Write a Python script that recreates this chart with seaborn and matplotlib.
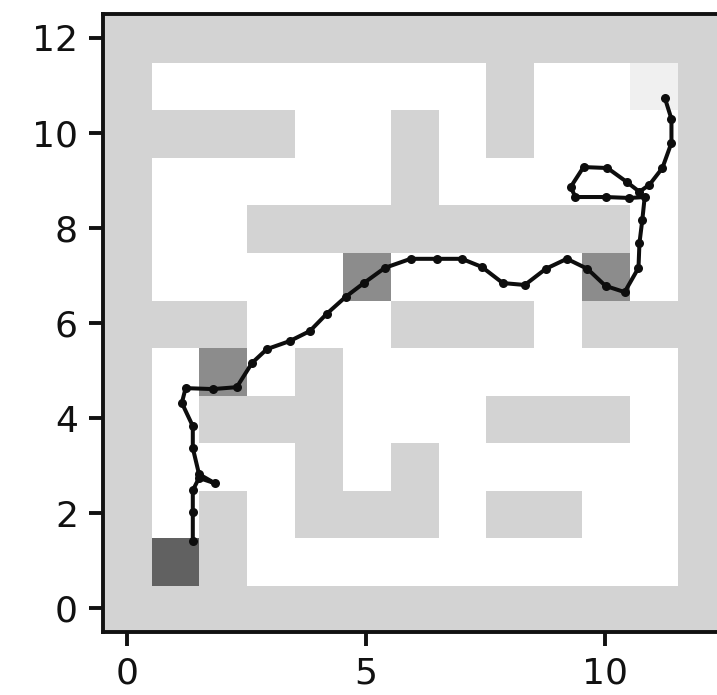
import numpy as np
import matplotlib
matplotlib.use("Agg")
import matplotlib.pyplot as plt
import seaborn as sns
import pandas as pd

N = 13
WALL, OPEN, START, CHECK, GOAL = 0.83, 1.0, 0.38, 0.55, 0.94

# interior wall cells per row (row index = y)
walls_by_row = {
    10: [1, 2, 3, 6, 8],
    11: [8],
    9: [6],
    8: [3, 4, 5, 6, 7, 8, 9, 10],
    6: [1, 2, 6, 7, 8, 10, 11],
    5: [4],
    4: [2, 3, 4, 8, 9, 10],
    3: [4, 6],
    2: [2, 4, 5, 6, 8, 9],
    1: [2],
}
checkpoints = [(5, 7), (10, 7), (2, 5)]
start_cell = (1, 1)
goal_cell = (11, 11)

path_x = [1.38, 1.38, 1.38, 1.51, 1.84, 1.51, 1.38, 1.38, 1.15, 1.23, 1.80, 2.30,
          2.62, 2.93, 3.41, 3.83, 4.18, 4.58, 4.96, 5.40, 5.94, 6.49, 7.01, 7.43,
          7.87, 8.33, 8.77, 9.21, 9.64, 10.02, 10.42, 10.71, 10.73, 10.79, 10.84,
          10.52, 10.02, 9.39, 9.29, 9.56, 10.06, 10.46, 10.73, 10.94, 11.21, 11.40,
          11.40, 11.26]
path_y = [1.41, 2.02, 2.48, 2.74, 2.63, 2.82, 3.37, 3.83, 4.32, 4.63, 4.61, 4.65,
          5.16, 5.45, 5.62, 5.83, 6.19, 6.55, 6.84, 7.16, 7.35, 7.35, 7.35, 7.18,
          6.84, 6.80, 7.14, 7.35, 7.14, 6.78, 6.65, 7.16, 7.68, 8.17, 8.65,
          8.63, 8.65, 8.65, 8.86, 9.28, 9.26, 8.97, 8.76, 8.91, 9.26, 9.79,
          10.29, 10.74]

grid = np.full((N, N), OPEN)
grid[0, :] = grid[-1, :] = grid[:, 0] = grid[:, -1] = WALL
for row, cols in walls_by_row.items():
    grid[row, cols] = WALL
for c, r in checkpoints:
    grid[r, c] = CHECK
grid[start_cell[1], start_cell[0]] = START
grid[goal_cell[1], goal_cell[0]] = GOAL

W, H = 717, 695
fig = plt.figure(figsize=(W / 100, H / 100), dpi=100)
ax = fig.add_axes([103 / W, (H - 632) / H, 621 / W, 618 / H])
ax.set_facecolor(str(WALL))

ax.imshow(grid, cmap="gray", vmin=0, vmax=1, origin="lower", aspect="auto",
          interpolation="nearest", extent=(-0.47, 12.53, -0.53, 12.47))
df = pd.DataFrame({"x": path_x, "y": path_y})
sns.lineplot(data=df, x="x", y="y", sort=False, estimator=None, ax=ax, color="#0d0d0d",
             linewidth=2.9, marker="o", markersize=6.5, markeredgewidth=0)
ax.set_xlim(-0.5, 12.5)
ax.set_ylim(-0.5, 12.5)
ax.set_xlabel("")
ax.set_ylabel("")
ax.set_xticks([0, 5, 10])
ax.set_yticks([0, 2, 4, 6, 8, 10, 12])
ax.tick_params(labelsize=26, length=10, width=2.8, pad=8, colors="#111111")
for s in ax.spines.values():
    s.set_linewidth(2.8)
    s.set_color("#111111")
fig.savefig("out.png", dpi=100)
